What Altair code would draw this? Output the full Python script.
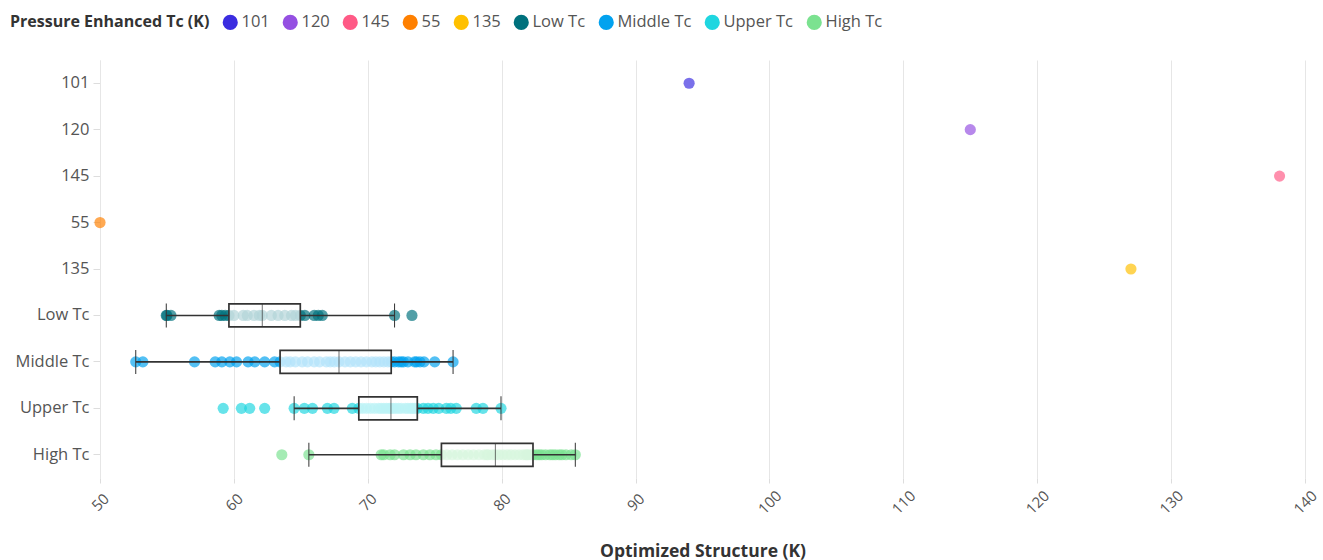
import altair as alt
import pandas as pd

# Row order on the y axis and the colour of each group
categories = ["101", "120", "145", "55", "135", "Low Tc", "Middle Tc", "Upper Tc", "High Tc"]
colors = ["#3b2ce0", "#9550e2", "#ff5a86", "#ff8000", "#ffc000",
          "#00717d", "#02a2ef", "#1fd6e0", "#7be290"]

# Single materials (one optimized-structure value each)
single_values = {
    "101": [94.0],
    "120": [115.0],
    "145": [138.1],
    "55": [50.0],
    "135": [127.0],
}

# Optimized-structure Tc values (K) for each Tc group
low_tc = [54.95, 55.0, 55.3, 58.9, 59.1, 59.35, 59.63, 60.0, 60.7, 61.0, 61.5, 61.9,
          62.12, 62.8, 63.3, 63.8, 64.3, 64.6, 64.96, 65.3, 66.0, 66.3, 66.6, 72.0, 73.3]
middle_tc = [52.67, 53.2, 57.06, 58.6, 59.1, 59.7, 60.2, 61.06, 61.56, 62.3, 63.04,
             63.45, 63.9, 64.2, 64.6, 65.1, 65.5, 66.0, 66.4, 66.9, 67.2, 67.5,
             67.85, 68.3, 68.7, 69.1, 69.5, 69.9, 70.3, 70.6, 70.9, 71.2, 71.5,
             71.75, 72.0, 72.3, 72.5, 72.67, 73.0, 73.5, 73.65, 73.9, 74.2, 75.0, 76.37]
upper_tc = [59.2, 60.56, 61.18, 62.3, 64.5, 65.26, 65.87, 66.98, 67.48, 68.84,
            69.33, 69.6, 69.9, 70.2, 70.5, 70.8, 71.0, 71.2, 71.4, 71.6,
            71.73, 71.9, 72.1, 72.3, 72.5, 72.8, 73.0, 73.2, 73.35, 73.5, 73.7,
            74.15, 74.5, 74.89, 75.3, 75.87, 76.2, 76.61, 78.1, 78.6, 79.95]
high_tc = [63.58, 65.6, 71.0, 71.19, 71.67, 72.0, 72.67, 73.16, 73.6, 74.15, 74.64, 75.1,
           75.5, 75.9, 76.3, 76.7, 77.1, 77.5, 77.9, 78.3, 78.7, 78.9, 79.0, 79.3,
           79.53, 79.8, 80.1, 80.4, 80.7, 81.0, 81.3, 81.6, 81.8, 81.9, 82.0, 82.2,
           82.34, 82.6, 82.8, 83.0, 83.28, 83.6, 83.8, 84.02, 84.3, 84.5, 84.8, 85.2, 85.5]

groups = {"Low Tc": low_tc, "Middle Tc": middle_tc, "Upper Tc": upper_tc, "High Tc": high_tc}

rows = []
for name, vals in list(single_values.items()) + list(groups.items()):
    for v in vals:
        rows.append({"category": name, "value": v})
df = pd.DataFrame(rows)

font = "Open Sans"
x_title = "Optimized Structure (K)"

x_enc = alt.X(
    "value:Q",
    title=x_title,
    scale=alt.Scale(domain=[50, 140], nice=False, zero=False),
    axis=alt.Axis(
        values=list(range(50, 141, 10)),
        labelAngle=315,
        labelAlign="center",
        labelBaseline="middle",
        labelPadding=19,
        labelFontSize=15,
        labelColor="#555555",
        tickSize=5,
        tickColor="#dddddd",
        domain=False,
        grid=True,
        gridColor="#e6e6e6",
        titleFontSize=17.5,
        titleFontWeight="bold",
        titleColor="#333333",
        titleBaseline="middle",
        titleY=73,
    ),
)

y_enc = alt.Y(
    "category:N",
    sort=categories,
    title=None,
    scale=alt.Scale(paddingInner=0, paddingOuter=0),
    axis=alt.Axis(
        labelFontSize=16.5,
        labelColor="#555555",
        labelPadding=4,
        tickSize=7,
        tickColor="#dddddd",
        domainColor="#e6e6e6",
        grid=False,
    ),
)

points = alt.Chart(df).mark_circle(size=125, opacity=0.68).encode(
    x=x_enc,
    y=y_enc,
    color=alt.Color(
        "category:N",
        scale=alt.Scale(domain=categories, range=colors),
        legend=alt.Legend(
            title="Pressure Enhanced Tc (K)",
            orient="none",
            legendX=-90,
            legendY=-46,
            direction="horizontal",
            titleOrient="left",
            titleFontSize=16,
            titleFontWeight="bold",
            titleColor="#333333",
            titleLimit=400,
            labelFontSize=16.5,
            labelColor="#555555",
            labelLimit=200,
            symbolType="circle",
            symbolSize=230,
            symbolOpacity=1,
            symbolStrokeWidth=0,
            columnPadding=12,
            labelOffset=3,
            titlePadding=12,
        ),
    ),
)

boxes = alt.Chart(df).transform_filter(
    alt.FieldOneOfPredicate(field="category", oneOf=list(groups.keys()))
).mark_boxplot(
    extent=1.5,
    size=23,
    outliers=False,
    box={"fill": "white", "fillOpacity": 0.7, "stroke": "#333333", "strokeWidth": 1.7},
    median={"color": "#333333", "strokeWidth": 1.8},
    rule={"color": "#333333", "strokeWidth": 1.6},
    ticks={"color": "#333333", "strokeWidth": 2, "size": 24},
).encode(
    x=alt.X("value:Q", title=x_title),
    y=alt.Y("category:N", sort=categories, title=None),
)

chart = alt.layer(points, boxes).properties(
    width=1205,
    height=418,
    autosize=alt.AutoSizeParams(type="none"),
    padding={"left": 100, "top": 60, "right": 18, "bottom": 82},
).configure(font=font).configure_view(stroke=None)

chart.save("out.html", embed_options={"renderer": "svg", "actions": False})
